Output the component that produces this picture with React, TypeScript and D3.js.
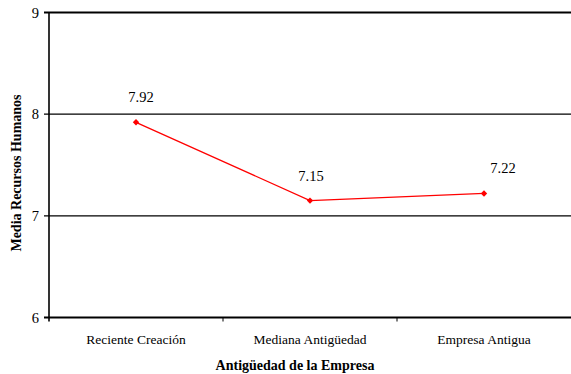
import React from "react";
import * as d3 from "d3";

const categories = ["Reciente Creación", "Mediana Antigüedad", "Empresa Antigua"];
const values = [7.92, 7.15, 7.22];
const valueLabels = ["7.92", "7.15", "7.22"];
const labelOffsets = [5, 1, 19];
const yTicks = [6, 7, 8, 9];

const W = 571;
const H = 374;
const margin = { left: 49, right: 0, top: 13, bottom: 56 };
const font = "Liberation Serif, DejaVu Serif, serif";

export default function App() {
  const x = d3
    .scaleBand<string>()
    .domain(categories)
    .range([margin.left, W - margin.right])
    .paddingInner(0)
    .paddingOuter(0);
  const y = d3.scaleLinear().domain([6, 9]).range([H - margin.bottom - 0.5, margin.top - 0.5]);

  const pts = categories.map((c, i) => [x(c)! + x.bandwidth() / 2, y(values[i])] as [number, number]);
  const line = d3.line()(pts)!;
  const bottom = y(6);

  return (
    <svg
      width={W}
      height={H}
      style={{ position: "absolute", left: 0, top: 0, background: "#fff", fontFamily: font }}
    >
      {yTicks.map((t) => (
        <g key={t}>
          <line
            x1={margin.left - 5}
            x2={W}
            y1={y(t)}
            y2={y(t)}
            stroke="#000"
            strokeWidth={t === 6 ? 2.2 : t === 9 ? 1.8 : 1.2}
          />
          <text x={margin.left - 10} y={y(t)} dy="0.35em" textAnchor="end" style={{ fontFamily: font, fontSize: 14.5 }}>
            {t}
          </text>
        </g>
      ))}
      <line x1={margin.left} x2={margin.left} y1={y(9)} y2={bottom + 4} stroke="#000" strokeWidth={1.6} />
      {categories.slice(1).map((c) => (
        <line key={c} x1={x(c)!} x2={x(c)!} y1={bottom} y2={bottom + 4} stroke="#000" strokeWidth={1} />
      ))}
      {categories.map((c) => (
        <text
          key={c}
          x={x(c)! + x.bandwidth() / 2}
          y={344}
          textAnchor="middle"
          style={{ fontFamily: font, fontSize: 13.5 }}
        >
          {c}
        </text>
      ))}
      <path d={line} fill="none" stroke="#ff0000" strokeWidth={1.3} />
      {pts.map(([px, py], i) => (
        <g key={i}>
          <path
            d={`M${px},${py - 3.2}L${px + 3.2},${py}L${px},${py + 3.2}L${px - 3.2},${py}Z`}
            fill="#ff0000"
          />
          <text
            x={px + labelOffsets[i]}
            y={py - 20}
            textAnchor="middle"
            style={{ fontFamily: font, fontSize: 14.5 }}
          >
            {valueLabels[i]}
          </text>
        </g>
      ))}
      <text x={295} y={370} textAnchor="middle" style={{ fontFamily: font, fontSize: 14, fontWeight: "bold" }}>
        Antigüedad de la Empresa
      </text>
      <text
        transform={`translate(21,${(y(6) + y(9)) / 2 + 8}) rotate(-90)`}
        textAnchor="middle"
        style={{ fontFamily: font, fontSize: 14, fontWeight: "bold" }}
      >
        Media Recursos Humanos
      </text>
    </svg>
  );
}
